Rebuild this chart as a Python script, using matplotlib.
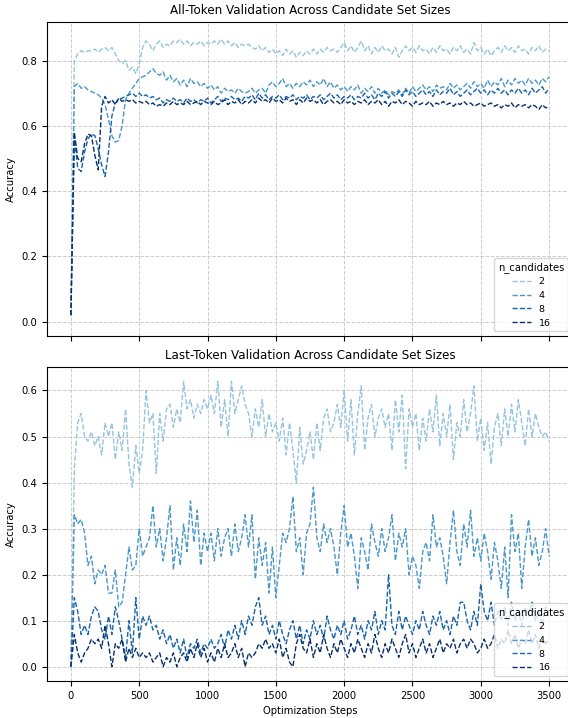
import numpy as np
import matplotlib
matplotlib.use("Agg")
import matplotlib.pyplot as plt

steps = list(range(0, 3501, 25))
n_candidates = [2, 4, 8, 16]
colors = ["#94c4df", "#4a98c9", "#1764ab", "#08306b"]

all_2 = [
    0.02, 0.80, 0.82, 0.83, 0.825, 0.83, 0.83, 0.835, 0.825, 0.835, 0.84, 0.83, 0.84, 0.82, 0.80, 0.79, 0.80, 0.77, 0.78, 0.76,
    0.79, 0.84, 0.86, 0.85, 0.83, 0.85, 0.86, 0.84, 0.85, 0.845, 0.86, 0.855, 0.865, 0.85, 0.86, 0.845, 0.855, 0.85, 0.86, 0.845,
    0.855, 0.85, 0.86, 0.85, 0.865, 0.85, 0.86, 0.845, 0.855, 0.84, 0.85, 0.845, 0.85, 0.84, 0.835, 0.845, 0.83, 0.84, 0.825, 0.835,
    0.82, 0.83, 0.815, 0.835, 0.82, 0.83, 0.81, 0.825, 0.815, 0.83, 0.82, 0.835, 0.82, 0.835, 0.825, 0.84, 0.83, 0.835, 0.825, 0.84,
    0.855, 0.83, 0.845, 0.825, 0.84, 0.86, 0.83, 0.845, 0.82, 0.84, 0.825, 0.845, 0.83, 0.835, 0.82, 0.84, 0.81, 0.83, 0.845, 0.83,
    0.84, 0.825, 0.845, 0.83, 0.835, 0.82, 0.84, 0.825, 0.845, 0.83, 0.835, 0.82, 0.84, 0.83, 0.845, 0.825, 0.835, 0.82, 0.855, 0.83,
    0.84, 0.82, 0.835, 0.815, 0.83, 0.84, 0.825, 0.845, 0.83, 0.84, 0.825, 0.845, 0.83, 0.835, 0.82, 0.84, 0.83, 0.845, 0.825, 0.835,
    0.83,
]
all_4 = [
    0.02, 0.72, 0.73, 0.715, 0.72, 0.71, 0.705, 0.70, 0.695, 0.685, 0.665, 0.62, 0.57, 0.55, 0.555, 0.60, 0.68, 0.70, 0.715, 0.73,
    0.745, 0.75, 0.755, 0.765, 0.775, 0.76, 0.755, 0.765, 0.74, 0.755, 0.735, 0.745, 0.725, 0.74, 0.72, 0.745, 0.73, 0.735, 0.72, 0.73,
    0.715, 0.725, 0.71, 0.72, 0.70, 0.715, 0.705, 0.71, 0.70, 0.715, 0.705, 0.70, 0.705, 0.715, 0.70, 0.71, 0.715, 0.70, 0.725, 0.735,
    0.72, 0.73, 0.745, 0.72, 0.73, 0.715, 0.73, 0.72, 0.735, 0.725, 0.74, 0.72, 0.735, 0.725, 0.745, 0.72, 0.735, 0.715, 0.725, 0.71,
    0.72, 0.705, 0.72, 0.71, 0.725, 0.70, 0.715, 0.705, 0.72, 0.70, 0.715, 0.70, 0.71, 0.695, 0.705, 0.70, 0.71, 0.695, 0.715, 0.70,
    0.72, 0.705, 0.715, 0.725, 0.71, 0.72, 0.705, 0.725, 0.715, 0.72, 0.71, 0.73, 0.715, 0.725, 0.71, 0.72, 0.73, 0.715, 0.735, 0.72,
    0.73, 0.715, 0.74, 0.72, 0.735, 0.725, 0.745, 0.72, 0.74, 0.725, 0.745, 0.73, 0.74, 0.725, 0.745, 0.73, 0.74, 0.725, 0.745, 0.735,
    0.75,
]
all_8 = [
    0.02, 0.57, 0.47, 0.46, 0.52, 0.56, 0.575, 0.57, 0.53, 0.48, 0.445, 0.52, 0.63, 0.67, 0.68, 0.685, 0.69, 0.695, 0.70, 0.69,
    0.70, 0.69, 0.695, 0.685, 0.69, 0.68, 0.685, 0.67, 0.68, 0.675, 0.685, 0.675, 0.68, 0.67, 0.685, 0.675, 0.68, 0.67, 0.68, 0.675,
    0.685, 0.67, 0.68, 0.69, 0.675, 0.685, 0.68, 0.69, 0.68, 0.685, 0.675, 0.69, 0.685, 0.695, 0.68, 0.70, 0.685, 0.695, 0.68, 0.69,
    0.685, 0.695, 0.68, 0.69, 0.685, 0.695, 0.68, 0.69, 0.685, 0.695, 0.68, 0.69, 0.685, 0.695, 0.68, 0.69, 0.70, 0.685, 0.695, 0.68,
    0.69, 0.685, 0.695, 0.68, 0.69, 0.685, 0.70, 0.685, 0.695, 0.68, 0.70, 0.69, 0.705, 0.685, 0.70, 0.69, 0.705, 0.69, 0.71, 0.695,
    0.705, 0.69, 0.70, 0.71, 0.695, 0.705, 0.69, 0.71, 0.695, 0.705, 0.70, 0.715, 0.695, 0.705, 0.69, 0.70, 0.71, 0.695, 0.705, 0.715,
    0.70, 0.71, 0.695, 0.71, 0.70, 0.715, 0.70, 0.71, 0.695, 0.71, 0.70, 0.715, 0.70, 0.71, 0.695, 0.715, 0.70, 0.71, 0.72, 0.70,
    0.715,
]
all_16 = [
    0.02, 0.58, 0.50, 0.49, 0.545, 0.575, 0.57, 0.51, 0.465, 0.66, 0.69, 0.67, 0.68, 0.665, 0.685, 0.675, 0.68, 0.675, 0.68, 0.67,
    0.675, 0.67, 0.675, 0.665, 0.67, 0.66, 0.665, 0.66, 0.67, 0.665, 0.675, 0.665, 0.67, 0.665, 0.675, 0.665, 0.67, 0.675, 0.665, 0.675,
    0.67, 0.665, 0.675, 0.665, 0.67, 0.68, 0.665, 0.675, 0.67, 0.68, 0.665, 0.675, 0.67, 0.68, 0.67, 0.685, 0.675, 0.68, 0.67, 0.685,
    0.675, 0.68, 0.67, 0.685, 0.675, 0.68, 0.665, 0.68, 0.67, 0.685, 0.675, 0.68, 0.67, 0.68, 0.665, 0.675, 0.68, 0.67, 0.675, 0.665,
    0.68, 0.67, 0.675, 0.665, 0.675, 0.67, 0.68, 0.665, 0.675, 0.67, 0.68, 0.665, 0.675, 0.66, 0.675, 0.67, 0.68, 0.665, 0.675, 0.67,
    0.66, 0.675, 0.665, 0.67, 0.665, 0.675, 0.66, 0.67, 0.665, 0.675, 0.665, 0.67, 0.66, 0.67, 0.665, 0.675, 0.665, 0.67, 0.66, 0.665,
    0.67, 0.66, 0.665, 0.67, 0.66, 0.665, 0.655, 0.665, 0.66, 0.67, 0.655, 0.665, 0.66, 0.665, 0.655, 0.665, 0.66, 0.65, 0.665, 0.655,
    0.66,
]

last_2 = [
    0.0, 0.43, 0.53, 0.55, 0.50, 0.49, 0.51, 0.48, 0.50, 0.46, 0.53, 0.50, 0.53, 0.45, 0.51, 0.47, 0.56, 0.44, 0.39, 0.48,
    0.42, 0.47, 0.60, 0.53, 0.55, 0.42, 0.55, 0.49, 0.56, 0.57, 0.52, 0.56, 0.53, 0.62, 0.56, 0.58, 0.54, 0.57, 0.55, 0.58,
    0.56, 0.59, 0.55, 0.62, 0.52, 0.58, 0.50, 0.62, 0.55, 0.58, 0.61, 0.57, 0.55, 0.50, 0.56, 0.52, 0.58, 0.50, 0.55, 0.51,
    0.53, 0.49, 0.54, 0.46, 0.53, 0.47, 0.40, 0.52, 0.44, 0.47, 0.51, 0.45, 0.53, 0.47, 0.54, 0.56, 0.51, 0.53, 0.57, 0.52,
    0.60, 0.49, 0.58, 0.46, 0.55, 0.61, 0.47, 0.54, 0.57, 0.50, 0.54, 0.56, 0.52, 0.55, 0.47, 0.58, 0.51, 0.59, 0.43, 0.56,
    0.52, 0.55, 0.47, 0.54, 0.49, 0.56, 0.51, 0.59, 0.48, 0.55, 0.50, 0.57, 0.45, 0.53, 0.50, 0.58, 0.51, 0.55, 0.61, 0.49,
    0.54, 0.47, 0.53, 0.44, 0.52, 0.55, 0.48, 0.56, 0.50, 0.57, 0.51, 0.58, 0.53, 0.48, 0.56, 0.50, 0.55, 0.52, 0.50, 0.51,
    0.49,
]
last_4 = [
    0.0, 0.33, 0.31, 0.32, 0.29, 0.22, 0.24, 0.18, 0.21, 0.20, 0.22, 0.16, 0.16, 0.21, 0.13, 0.14, 0.20, 0.26, 0.21, 0.22,
    0.30, 0.24, 0.26, 0.28, 0.35, 0.26, 0.30, 0.23, 0.28, 0.35, 0.21, 0.28, 0.22, 0.31, 0.25, 0.36, 0.27, 0.34, 0.22, 0.29,
    0.25, 0.29, 0.23, 0.30, 0.24, 0.28, 0.30, 0.24, 0.31, 0.25, 0.28, 0.33, 0.26, 0.33, 0.19, 0.28, 0.22, 0.27, 0.16, 0.26,
    0.15, 0.22, 0.29, 0.27, 0.30, 0.37, 0.25, 0.28, 0.20, 0.29, 0.31, 0.39, 0.28, 0.25, 0.31, 0.27, 0.30, 0.26, 0.20, 0.29,
    0.35, 0.26, 0.29, 0.24, 0.17, 0.28, 0.25, 0.21, 0.31, 0.27, 0.24, 0.30, 0.25, 0.28, 0.33, 0.23, 0.29, 0.26, 0.30, 0.20,
    0.24, 0.22, 0.17, 0.25, 0.27, 0.23, 0.33, 0.26, 0.28, 0.24, 0.18, 0.27, 0.34, 0.25, 0.22, 0.31, 0.26, 0.34, 0.24, 0.28,
    0.23, 0.29, 0.25, 0.19, 0.27, 0.23, 0.17, 0.26, 0.15, 0.33, 0.25, 0.29, 0.17, 0.26, 0.32, 0.24, 0.28, 0.22, 0.25, 0.30,
    0.24,
]
last_8 = [
    0.0, 0.15, 0.12, 0.07, 0.09, 0.07, 0.11, 0.13, 0.12, 0.08, 0.06, 0.11, 0.07, 0.13, 0.10, 0.06, 0.02, 0.10, 0.03, 0.15,
    0.06, 0.11, 0.09, 0.11, 0.08, 0.09, 0.06, 0.08, 0.05, 0.07, 0.04, 0.06, 0.03, 0.06, 0.02, 0.05, 0.04, 0.06, 0.03, 0.05,
    0.04, 0.06, 0.04, 0.05, 0.07, 0.04, 0.08, 0.06, 0.09, 0.06, 0.10, 0.07, 0.11, 0.09, 0.13, 0.15, 0.09, 0.11, 0.07, 0.09,
    0.06, 0.10, 0.07, 0.05, 0.08, 0.10, 0.06, 0.09, 0.05, 0.08, 0.06, 0.10, 0.07, 0.09, 0.06, 0.11, 0.08, 0.06, 0.09, 0.07,
    0.10, 0.06, 0.08, 0.11, 0.07, 0.09, 0.06, 0.10, 0.08, 0.12, 0.07, 0.10, 0.08, 0.20, 0.09, 0.07, 0.12, 0.08, 0.11, 0.09,
    0.07, 0.10, 0.08, 0.12, 0.09, 0.07, 0.11, 0.09, 0.12, 0.08, 0.10, 0.07, 0.11, 0.09, 0.14, 0.14, 0.10, 0.08, 0.12, 0.09,
    0.18, 0.12, 0.10, 0.14, 0.09, 0.12, 0.10, 0.13, 0.09, 0.14, 0.10, 0.12, 0.09, 0.13, 0.11, 0.14, 0.10, 0.12, 0.09, 0.13,
    0.12,
]
last_16 = [
    0.0, 0.07, 0.03, 0.01, 0.03, 0.04, 0.06, 0.05, 0.06, 0.04, 0.09, 0.05, 0.0, 0.05, 0.04, 0.06, 0.01, 0.04, 0.02, 0.04,
    0.02, 0.03, 0.02, 0.03, 0.01, 0.02, 0.03, 0.0, 0.02, 0.01, 0.03, 0.0, 0.02, 0.03, 0.01, 0.04, 0.02, 0.05, 0.02, 0.04,
    0.01, 0.03, 0.01, 0.04, 0.02, 0.05, 0.02, 0.03, 0.05, 0.02, 0.04, 0.0, 0.03, 0.02, 0.03, 0.05, 0.04, 0.06, 0.04, 0.05,
    0.03, 0.06, 0.02, 0.04, 0.01, 0.0, 0.05, 0.07, 0.04, 0.03, 0.06, 0.02, 0.05, 0.03, 0.07, 0.04, 0.02, 0.05, 0.03, 0.06,
    0.04, 0.02, 0.05, 0.03, 0.06, 0.04, 0.02, 0.05, 0.03, 0.07, 0.04, 0.02, 0.05, 0.03, 0.06, 0.04, 0.02, 0.05, 0.07, 0.03,
    0.05, 0.02, 0.04, 0.06, 0.03, 0.05, 0.02, 0.04, 0.06, 0.03, 0.05, 0.04, 0.06, 0.03, 0.05, 0.06, 0.04, 0.06, 0.05, 0.03,
    0.04, 0.06, 0.04, 0.05, 0.07, 0.04, 0.06, 0.05, 0.08, 0.05, 0.07, 0.04, 0.06, 0.05, 0.08, 0.05, 0.07, 0.04, 0.06, 0.05,
    0.06,
]

top_series = [all_2, all_4, all_8, all_16]
bottom_series = [last_2, last_4, last_8, last_16]

fig = plt.figure(figsize=(5.68, 7.18), dpi=100)
ax1 = fig.add_axes([47 / 568, (718 - 336) / 718, 526 / 568, 314 / 718])
ax2 = fig.add_axes([47 / 568, (718 - 681) / 718, 526 / 568, 314 / 718], sharex=ax1)

panels = [
    (ax1, top_series, "All-Token Validation Across Candidate Set Sizes", (-0.0437, 0.918)),
    (ax2, bottom_series, "Last-Token Validation Across Candidate Set Sizes", (-0.031, 0.651)),
]
for ax, series, title, ylim in panels:
    for n, vals, c in zip(n_candidates, series, colors):
        ax.plot(steps, vals, linestyle="--", color=c, linewidth=1.0, label=str(n))
    ax.set_title(title, fontsize=8.6)
    ax.set_ylabel("Accuracy", fontsize=7.2)
    ax.set_ylim(*ylim)
    ax.grid(True, linestyle="--", color="#cccccc", linewidth=0.7)
    ax.tick_params(labelsize=7.2)
    leg = ax.legend(title="n_candidates", loc="lower right", fontsize=6.8, title_fontsize=7.2)

ax1.set_xlim(-175, 3675)
ax1.set_xticks(range(0, 3501, 500))
ax1.set_yticks([0.0, 0.2, 0.4, 0.6, 0.8])
ax2.set_yticks([0.0, 0.1, 0.2, 0.3, 0.4, 0.5, 0.6])
plt.setp(ax1.get_xticklabels(), visible=False)
ax2.set_xlabel("Optimization Steps", fontsize=7.2)

fig.savefig("out.png", dpi=100)
